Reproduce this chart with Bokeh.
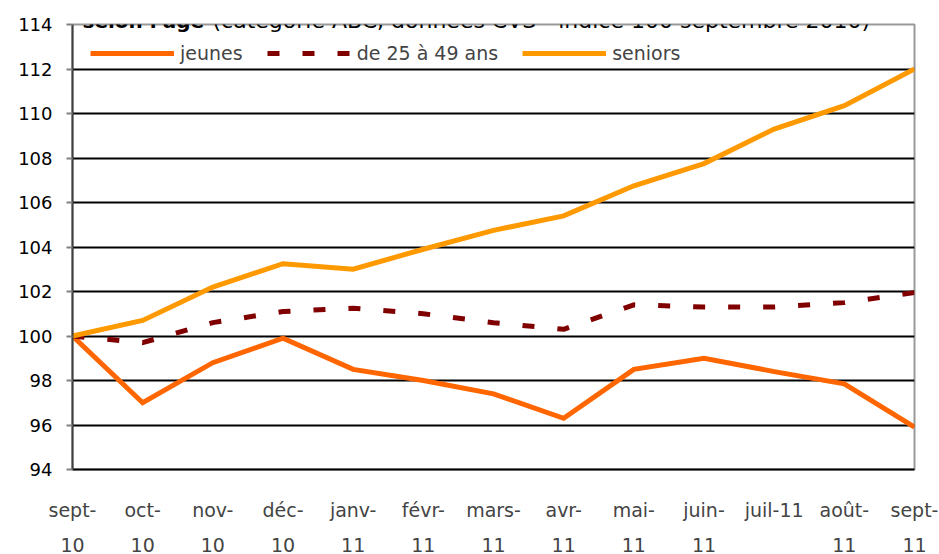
from bokeh.plotting import figure
from bokeh.models import Range1d, FixedTicker, LinearAxis, Label, Legend, LegendItem, Grid
from bokeh.embed import file_html
from bokeh.resources import INLINE

months = ["sept-", "oct-", "nov-", "déc-", "janv-", "févr-", "mars-", "avr-", "mai-", "juin-", "juil-11", "août-", "sept-"]
years = ["10", "10", "10", "10", "11", "11", "11", "11", "11", "11", "", "11", "11"]
jeunes = [100, 97.0, 98.8, 99.9, 98.5, 98.0, 97.4, 96.3, 98.5, 99.0, 98.4, 97.85, 95.9]
age_25_49 = [100, 99.7, 100.6, 101.1, 101.25, 101.0, 100.6, 100.3, 101.4, 101.3, 101.3, 101.5, 101.95]
seniors = [100, 100.7, 102.2, 103.25, 103.0, 103.9, 104.75, 105.4, 106.75, 107.75, 109.3, 110.35, 112.0]
y_ticks = [94, 96, 98, 100, 102, 104, 106, 108, 110, 112, 114]

FONT = "DejaVu Sans"
x = list(range(len(months)))

p = figure(width=939, height=554, output_backend="svg", toolbar_location=None,
           x_range=Range1d(0, len(months) - 1), y_range=Range1d(94, 114),
           x_axis_type=None, y_axis_type=None,
           min_border_left=72, min_border_right=25, min_border_top=24, min_border_bottom=10)
p.outline_line_color = "#999999"
p.outline_line_width = 2
p.background_fill_color = "white"
p.border_fill_color = "white"

# y axis
yax = LinearAxis(ticker=FixedTicker(ticks=y_ticks))
yax.axis_line_color = "#404040"
yax.axis_line_width = 2
yax.major_tick_out = 6
yax.major_tick_in = 0
yax.major_tick_line_color = "#808080"
yax.major_tick_line_width = 2
yax.minor_tick_line_color = None
yax.major_label_text_font = FONT
yax.major_label_text_font_size = "18px"
yax.major_label_text_color = "black"
yax.major_label_standoff = 14
p.add_layout(yax, "left")

# x axis: two label lines
xt = FixedTicker(ticks=x)
xax1 = LinearAxis(ticker=xt)
xax1.major_label_overrides = {i: m for i, m in enumerate(months)}
xax1.axis_line_color = "black"
xax1.axis_line_width = 2
xax1.major_tick_line_color = None
xax1.minor_tick_line_color = None
xax1.major_tick_out = 0
xax1.major_label_standoff = 29
xax1.major_label_text_font = FONT
xax1.major_label_text_font_size = "19px"
p.add_layout(xax1, "below")

xax2 = LinearAxis(ticker=xt)
xax2.major_label_overrides = {i: yv for i, yv in enumerate(years)}
xax2.axis_line_color = None
xax2.major_tick_line_color = None
xax2.minor_tick_line_color = None
xax2.major_tick_out = 0
xax2.major_label_standoff = 14
xax2.major_label_text_font = FONT
xax2.major_label_text_font_size = "19px"
p.add_layout(xax2, "below")

# grid
g = Grid(dimension=1, ticker=FixedTicker(ticks=y_ticks[1:-1]))
g.grid_line_color = "black"
g.grid_line_width = 2
p.add_layout(g)

r1 = p.line(x, jeunes, line_color="#FF6600", line_width=5, line_join="miter")
r2 = p.line(x, age_25_49, line_color="#800000", line_width=5, line_dash="12 23")
r3 = p.line(x, seniors, line_color="#FF9900", line_width=5, line_join="miter")

legend = Legend(items=[LegendItem(label="jeunes", renderers=[r1]),
                       LegendItem(label="de 25 à 49 ans", renderers=[r2]),
                       LegendItem(label="seniors", renderers=[r3])],
                orientation="horizontal", location="top_left")
legend.glyph_width = 84
legend.glyph_height = 14
legend.label_standoff = 6
legend.spacing = 24
legend.padding = 10
legend.margin = 18
legend.border_line_color = None
legend.background_fill_color = "white"
legend.background_fill_alpha = 1
legend.label_text_font = FONT
legend.label_text_font_size = "19px"
legend.label_height = 14
p.add_layout(legend, "center")

# title (top of the chart)
t1 = Label(x=10, y=449, x_units="screen", y_units="screen", text="selon l'âge",
           text_font=FONT, text_font_style="bold", text_font_size="20px",
           text_baseline="alphabetic", text_color="black")
t2 = Label(x=140, y=449, x_units="screen", y_units="screen",
           text="(catégorie ABC, données CVS - indice 100 septembre 2010)",
           text_font=FONT, text_font_size="22px",
           text_baseline="alphabetic", text_color="black")
p.add_layout(t1)
p.add_layout(t2)

open("out.html", "w").write(file_html(p, INLINE))
